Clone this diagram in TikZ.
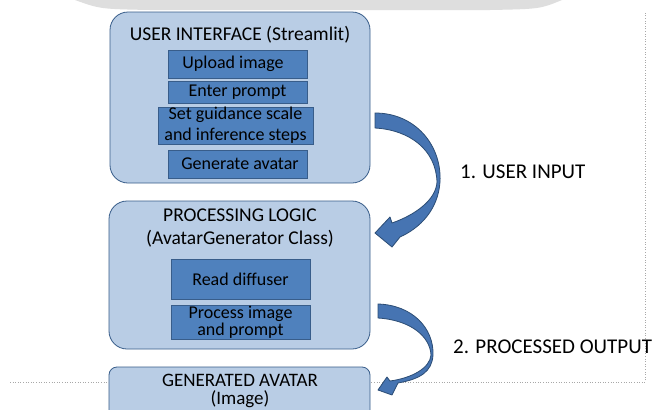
\documentclass[tikz,border=0pt]{standalone}
\usepackage{fontspec}
\setmainfont{Carlito}
\definecolor{lightblue}{HTML}{B9CDE5}
\definecolor{midblue}{HTML}{4F81BD}
\definecolor{boxline}{HTML}{385D8A}
\definecolor{arrowblue}{HTML}{4674B2}
\definecolor{arrowline}{HTML}{2C4D75}
\definecolor{bandgray}{HTML}{DEDEDE}
\definecolor{framegray}{HTML}{A8A8A8}
\begin{document}
\begin{tikzpicture}[x=1pt,y=-1pt,
  outerbox/.style={draw=boxline, fill=lightblue, line width=0.8pt, rounded corners=18pt, inner sep=0pt},
  innerbox/.style={draw=boxline, fill=midblue, line width=0.8pt, inner sep=0pt},
  txt/.style={font=\fontsize{18}{21}\selectfont, align=center, inner sep=0pt},
  titletxt/.style={font=\fontsize{19.5}{23}\selectfont, align=center, inner sep=0pt},
  labeltxt/.style={font=\fontsize{21}{24}\selectfont, anchor=west, inner sep=0pt},
  blockarrow/.style={fill=arrowblue, draw=arrowline, line width=0.8pt, line join=round}]
\clip (0,0) rectangle (657,410);
\fill[white] (0,0) rectangle (657,410);
% scanned page band at top
\fill[bandgray] (75,0) .. controls (100,9) .. (150,10) -- (490,10) .. controls (540,9) .. (562,0) -- cycle;
% dotted frame
\draw[framegray, dotted, line width=0.6pt] (10,382) -- (645,382) -- (645,12);

% user interface
\node[outerbox, minimum width=260pt, minimum height=171pt] (ui) at (240,97.5) {};
\node[titletxt] (uititle) at (240,35) {USER INTERFACE (Streamlit)};
\node[innerbox, minimum width=139pt, minimum height=28pt] (upload) at (237.5,64) {};
\node[txt] (uploadt) at (233,64) {Upload image};
\node[innerbox, minimum width=139pt, minimum height=22pt] (enter) at (237.5,92) {};
\node[txt] (entert) at (enter.center) {Enter prompt};
\node[innerbox, minimum width=155pt, minimum height=37pt] (guide) at (235.5,125.5) {};
\node[txt] (guidet) at (guide.center) {Set guidance scale\\and inference steps};
\node[innerbox, minimum width=139pt, minimum height=28pt] (gen) at (237.5,164) {};
\node[txt] (gent) at (240,164) {Generate avatar};

% processing logic
\node[outerbox, minimum width=261pt, minimum height=148pt] (pl) at (239.5,275) {};
\node[titletxt] (pltitle) at (240,228.5) {PROCESSING LOGIC\\(AvatarGenerator Class)};
\node[innerbox, minimum width=139pt, minimum height=40pt] (read) at (240.5,279) {};
\node[txt] (readt) at (read.center) {Read diffuser};
\node[innerbox, minimum width=139pt, minimum height=34pt] (proc) at (240.5,322) {};
\node[txt, font=\fontsize{18}{14}\selectfont] (proct) at (proc.center) {Process image\\and prompt};

% generated avatar
\node[outerbox, rounded corners=8pt, minimum width=261pt, minimum height=66pt] (ga) at (239.5,400) {};
\node[titletxt, font=\fontsize{19}{18}\selectfont] (gat) at (240,391) {GENERATED AVATAR\\(Image)};

% curved block arrows
\draw[blockarrow] (375,113) .. controls (415,113) and (442,145) .. (440,182)
  .. controls (438,210) and (420,228) .. (400,237) -- (392,247) -- (375,233) -- (390,217) -- (392,223)
  .. controls (415,215) and (436,200) .. (437,182)
  .. controls (436,150) and (410,130) .. (375,128) -- cycle;
\draw[blockarrow] (378,304) .. controls (412,305) and (434,328) .. (433,355)
  .. controls (432,372) and (420,379) .. (398,383) -- (392,395) -- (378,390) -- (387,377) -- (390,381)
  .. controls (412,378) and (430,368) .. (431,355)
  .. controls (430,336) and (410,320) .. (378,318) -- cycle;

\node[labeltxt] (lab1) at (460,172) {1. USER INPUT};
\node[labeltxt] (lab2) at (453,347) {2. PROCESSED OUTPUT};
\end{tikzpicture}
\end{document}
